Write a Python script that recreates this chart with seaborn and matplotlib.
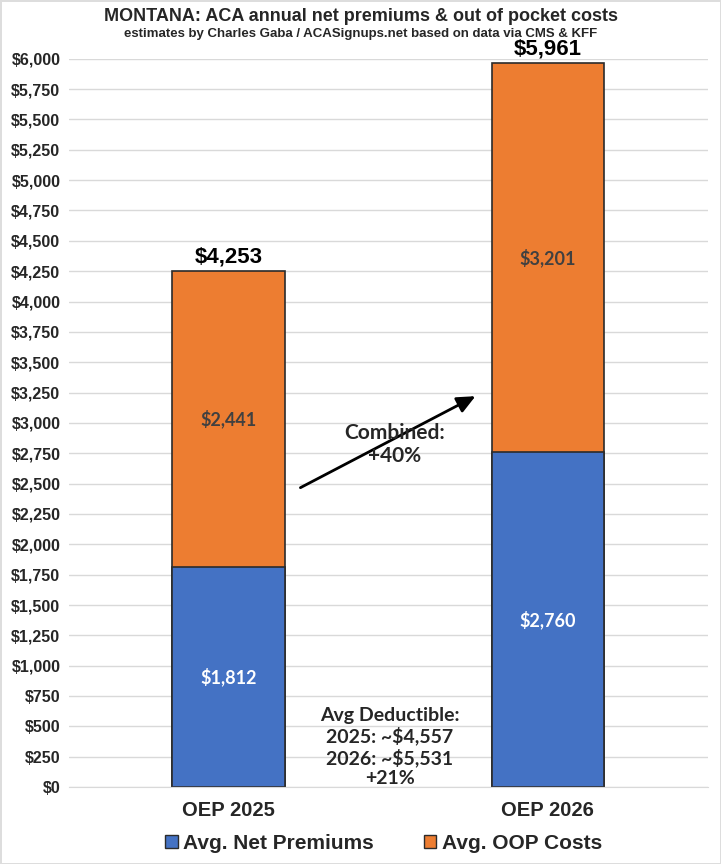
import seaborn as sns
import matplotlib.pyplot as plt
import pandas as pd
from matplotlib.patches import Patch
from matplotlib.ticker import FuncFormatter

periods = ["OEP 2025", "OEP 2026"]
net_premiums = [1812, 2760]
oop_costs = [2441, 3201]
deductibles = ["2025: ~$4,557", "2026: ~$5,531", "+21%"]

df = pd.DataFrame({"period": periods, "premium": net_premiums, "oop": oop_costs})
df["total"] = df["premium"] + df["oop"]

BLUE = "#4472C4"
ORANGE = "#ED7D31"
EDGE = "#2B2B2B"

sns.set_style("white")
head_font = ["Liberation Sans", "DejaVu Sans"]
label_font = ["Lato", "DejaVu Sans"]
plt.rcParams["font.family"] = head_font

fig = plt.figure(figsize=(7.21, 8.64), dpi=100)
fig.patch.set_edgecolor("#DDDDDD")
fig.patch.set_linewidth(1)
ax = fig.add_axes([0.0954, 0.089, 0.886, 0.843])

# orange = full stack, blue drawn over the bottom part
sns.barplot(data=df, x="period", y="total", color=ORANGE, saturation=1,
            width=0.352, edgecolor=EDGE, linewidth=1.2, ax=ax)
sns.barplot(data=df, x="period", y="premium", color=BLUE, saturation=1,
            width=0.352, edgecolor=EDGE, linewidth=1.2, ax=ax)

ax.set_ylim(0, 6000)
ax.set_xlim(-0.5, 1.5)
ax.set_yticks(range(0, 6001, 250))
ax.yaxis.set_major_formatter(FuncFormatter(lambda v, p: f"${v:,.0f}"))
ax.grid(axis="y", color="#D9D9D9", linewidth=1)
ax.set_axisbelow(True)
for s in ax.spines.values():
    s.set_visible(False)
ax.spines["bottom"].set_visible(True)
ax.spines["bottom"].set_color("#D9D9D9")
ax.tick_params(axis="y", length=0, pad=6, labelsize=11.5)
ax.tick_params(axis="x", length=0, pad=10, labelsize=14.5)
for t in ax.get_yticklabels() + ax.get_xticklabels():
    t.set_fontweight("bold")
ax.set_xlabel("")
ax.set_ylabel("")

# --- labels ---
for i, row in df.iterrows():
    ax.text(i, row["premium"] / 2, f"${row['premium']:,}", ha="center", va="center",
            color="white", fontsize=13, fontweight="bold", family=label_font)
    ax.text(i, row["premium"] + row["oop"] / 2, f"${row['oop']:,}", ha="center",
            va="center", color="#404040", fontsize=13, fontweight="bold", family=label_font)
    ax.text(i, row["total"] + 30, f"${row['total']:,}", ha="center",
            va="bottom", color="black", fontsize=16, fontweight="bold", family=head_font)

ax.annotate("", xy=(0.781, 3231), xytext=(0.2175, 2456),
            arrowprops=dict(arrowstyle="-|>,head_length=1.1,head_width=0.5",
                            color="black", lw=2))
ax.text(0.521, 2819, "Combined:\n+40%", ha="center", va="center", fontsize=15,
        fontweight="bold", family=label_font, linespacing=1.2)
ax.text(0.505, 330, "Avg Deductible:\n" + "\n".join(deductibles), ha="center",
        va="center", fontsize=14, fontweight="bold", family=label_font, linespacing=1.2)

fig.text(0.5, 0.981, "MONTANA: ACA annual net premiums & out of pocket costs",
         ha="center", va="center", fontsize=13, fontweight="bold")
fig.text(0.5, 0.9605, "estimates by Charles Gaba / ACASignups.net based on data via CMS & KFF",
         ha="center", va="center", fontsize=9.5, fontweight="bold")

handles = [Patch(facecolor=BLUE, edgecolor=EDGE, label="Avg. Net Premiums"),
           Patch(facecolor=ORANGE, edgecolor=EDGE, label="Avg. OOP Costs")]
fig.legend(handles=handles, loc="center", bbox_to_anchor=(0.532, 0.024), ncol=2,
           frameon=False, prop={"family": head_font, "weight": "bold", "size": 15},
           handlelength=0.6, handleheight=0.6, handletextpad=0.25, columnspacing=2.4)

fig.savefig("out.png", dpi=100)
